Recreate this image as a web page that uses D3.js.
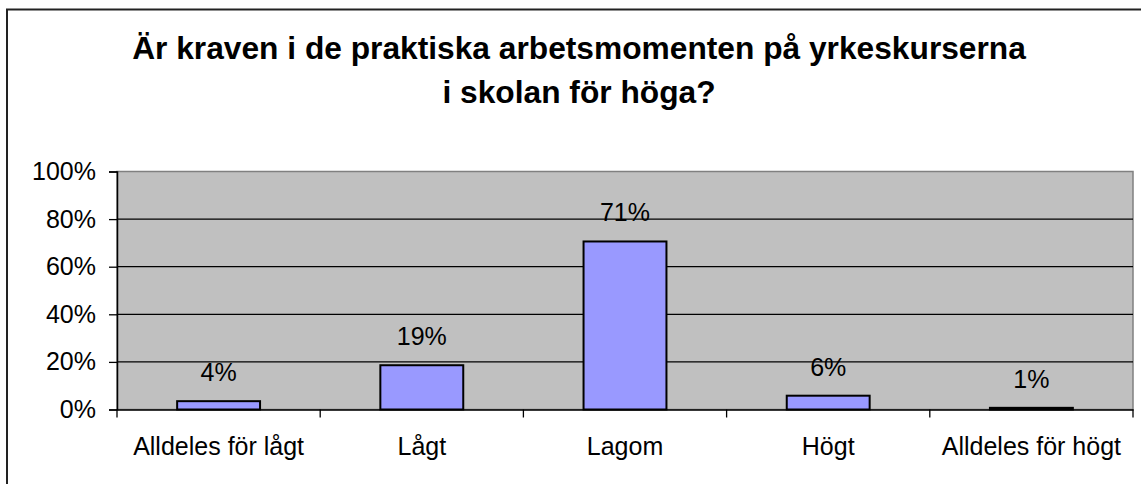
<!DOCTYPE html>
<html>
<head>
<meta charset="utf-8">
<script src="https://cdn.jsdelivr.net/npm/d3@7"></script>
<style>
  body { margin: 0; background: #fff; }
  svg { display: block; font-family: "Liberation Sans", Arial, sans-serif; }
</style>
</head>
<body>
<svg id="chart"></svg>
<script>
const width = 1141;
const height = 484;

const titleLines = ["Är kraven i de praktiska arbetsmomenten på yrkeskurserna", "i skolan för höga?"];
const categories = ["Alldeles för lågt", "Lågt", "Lagom", "Högt", "Alldeles för högt"];
const shares = [0.035, 0.186, 0.706, 0.058, 0.007];
const yTicks = [0, 0.2, 0.4, 0.6, 0.8, 1];

const plot = { left: 117, right: 1133, top: 171.5, bottom: 409.5 };
const fontSize = 25;

const svg = d3.select("#chart").attr("width", width).attr("height", height);

// outer chart frame (runs off the right and bottom edge)
svg.append("rect")
  .attr("x", 7).attr("y", 9.5)
  .attr("width", 1200).attr("height", 600)
  .attr("fill", "none")
  .attr("stroke", "#222")
  .attr("stroke-width", 2);

// title, a touch wider than Arial
svg.append("g")
  .attr("transform", "translate(579,0) scale(1.04,1)")
  .selectAll("text")
  .data(titleLines)
  .enter()
  .append("text")
  .attr("x", 0)
  .attr("y", (d, i) => 59 + i * 44.5)
  .attr("text-anchor", "middle")
  .attr("font-size", 30.5)
  .attr("font-weight", "bold")
  .text((d) => d);

const x = d3.scaleBand()
  .domain(categories)
  .range([plot.left, plot.right])
  .paddingInner(0.592)
  .paddingOuter(0.296);

const y = d3.scaleLinear().domain([0, 1]).range([plot.bottom, plot.top]);

// plot area
svg.append("rect")
  .attr("x", plot.left).attr("y", plot.top)
  .attr("width", plot.right - plot.left)
  .attr("height", plot.bottom - plot.top)
  .attr("fill", "#C0C0C0")
  .attr("stroke", "#808080")
  .attr("stroke-width", 1.5);

// gridlines
svg.append("g")
  .selectAll("line")
  .data(yTicks.filter((t) => t > 0 && t < 1))
  .enter()
  .append("line")
  .attr("x1", plot.left).attr("x2", plot.right)
  .attr("y1", (d) => y(d)).attr("y2", (d) => y(d))
  .attr("stroke", "#000")
  .attr("stroke-width", 1.3);

// y axis
const yAxis = svg.append("g")
  .attr("transform", `translate(${plot.left},0)`)
  .call(d3.axisLeft(y).tickValues(yTicks).tickFormat(d3.format(".0%")).tickSize(8).tickPadding(13));
yAxis.select(".domain").attr("stroke", "#000").attr("stroke-width", 1.5);
yAxis.selectAll(".tick line").attr("stroke", "#000").attr("stroke-width", 1.3);
yAxis.selectAll("text")
  .attr("font-size", fontSize)
  .attr("font-family", "Liberation Sans, Arial, sans-serif")
  .attr("fill", "#000");

// bars
svg.append("g")
  .selectAll("rect")
  .data(shares)
  .enter()
  .append("rect")
  .attr("x", (d, i) => x(categories[i]))
  .attr("y", (d) => y(d))
  .attr("width", x.bandwidth())
  .attr("height", (d) => y(0) - y(d))
  .attr("fill", "#9999FF")
  .attr("stroke", "#000")
  .attr("stroke-width", 2);

// value labels
svg.append("g")
  .selectAll("text")
  .data(shares)
  .enter()
  .append("text")
  .attr("x", (d, i) => x(categories[i]) + x.bandwidth() / 2)
  .attr("y", (d) => y(d) - 20)
  .attr("text-anchor", "middle")
  .attr("font-size", fontSize)
  .text((d) => d3.format(".0%")(d));

// x axis
const xAxis = svg.append("g")
  .attr("transform", `translate(0,${plot.bottom})`)
  .call(d3.axisBottom(x).tickSize(0).tickPadding(28));
xAxis.select(".domain").attr("stroke", "#000").attr("stroke-width", 1.5);
xAxis.selectAll("text")
  .attr("font-size", fontSize)
  .attr("font-family", "Liberation Sans, Arial, sans-serif")
  .attr("fill", "#000");

// category separator ticks
const bounds = d3.range(categories.length + 1).map((i) => plot.left + i * x.step());
svg.append("g")
  .selectAll("line")
  .data(bounds)
  .enter()
  .append("line")
  .attr("x1", (d) => d).attr("x2", (d) => d)
  .attr("y1", plot.bottom).attr("y2", plot.bottom + 8)
  .attr("stroke", "#000")
  .attr("stroke-width", 1.3);
</script>
</body>
</html>
